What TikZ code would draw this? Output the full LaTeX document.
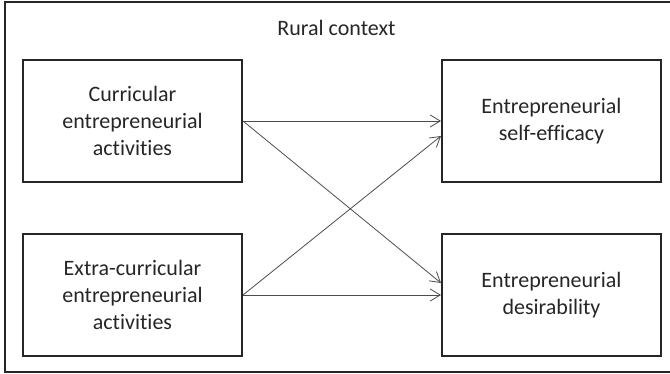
\documentclass[tikz,border=0pt]{standalone}
\usepackage{fontspec}
\setmainfont{Carlito}[Ligatures=NoCommon]
\usetikzlibrary{arrows.meta}

\begin{document}
\begin{tikzpicture}[x=1pt, y=-1pt,
    every node/.style={text=black!85, font=\fontsize{22}{27}\selectfont},
    factor/.style={draw=black!85, line width=2pt, align=center,
        minimum width=219pt, minimum height=122pt, inner sep=0pt},
    link/.style={draw=black!70, line width=0.8pt,
        -{Straight Barb[length=10pt, width=12pt, line width=0.8pt]}}]
        % Page and frame
        \useasboundingbox (0,0) rectangle (670,374);
        \draw[black!85, line width=1.3pt] (5,2) rectangle (672,372);
        \node (ctx) at (336.5,28) {Rural context};

        % Predictors (left) and outcomes (right)
        \node[factor] (cur) at (132.5,121) {Curricular\\entrepreneurial\\activities};
        \node[factor] (ext) at (132.5,295) {Extra-curricular\\entrepreneurial\\activities};
        \node[factor] (sef) at (551.5,121) {Entrepreneurial\\self-efficacy};
        \node[factor] (des) at (551.5,295) {Entrepreneurial\\desirability};

        % Paths
        \draw[link] (cur.east) -- (sef.west);
        \draw[link] (cur.east) -- ([yshift=12pt]des.west);
        \draw[link] (ext.east) -- ([yshift=-15pt]sef.west);
        \draw[link] (ext.east) -- (des.west);
\end{tikzpicture}
\end{document}
